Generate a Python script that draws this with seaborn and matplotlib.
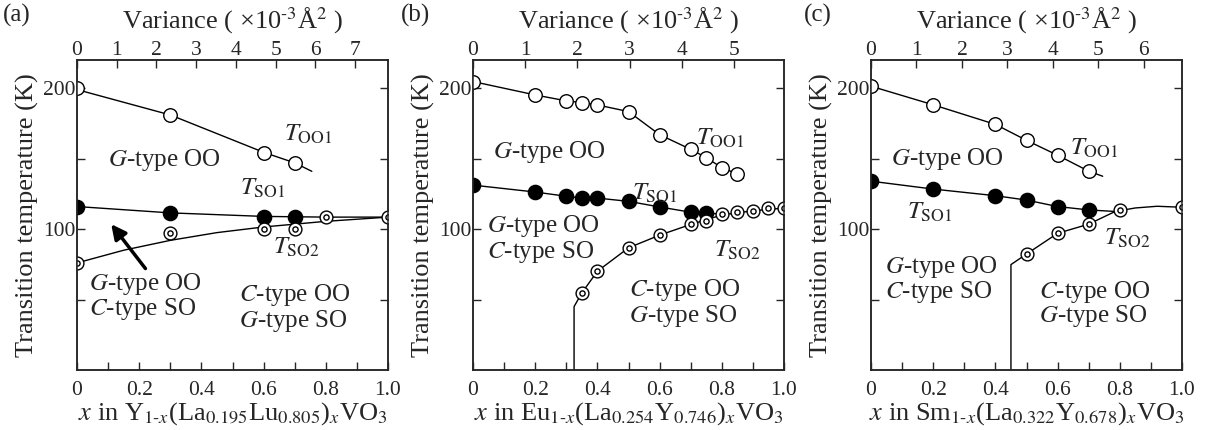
import numpy as np
import pandas as pd
import matplotlib
matplotlib.use("Agg")
import matplotlib.pyplot as plt
import seaborn as sns
from matplotlib.ticker import FixedLocator, MultipleLocator

sns.set_style("ticks")
plt.rcParams['font.family'] = ['Liberation Serif', 'STIXGeneral', 'DejaVu Serif']
plt.rcParams['mathtext.fontset'] = 'stix'
plt.rcParams['axes.linewidth'] = 1.1

# ---- panel (a): Y1-x(La0.195Lu0.805)xVO3 ----
a_oo1_x = [0.0, 0.3, 0.6, 0.7]
a_oo1_t = [200, 181, 154, 147]
a_so1_x = [0.0, 0.3, 0.6, 0.7]
a_so1_t = [116, 111.5, 108.5, 108.5]
a_so2_x = [0.0, 0.3, 0.6, 0.7, 0.8, 1.0]
a_so2_t = [76, 97, 100, 100, 108.5, 108.5]
# guide lines drawn through the data
a_oo1_gx = [0.0, 0.3, 0.6, 0.7, 0.755]
a_oo1_gt = [199, 181, 154.5, 147, 141]
a_so1_gx = [0.0, 0.3, 0.6, 0.8, 1.0]
a_so1_gt = [116, 111.5, 109, 108.5, 108.5]
a_so2_gx = [0.0, 0.15, 0.3, 0.45, 0.6, 0.8, 1.0]
a_so2_gt = [76, 85, 92, 97.5, 101.5, 105.5, 108.5]

# ---- panel (b): Eu1-x(La0.254Y0.746)xVO3 ----
b_oo1_x = [0.0, 0.2, 0.3, 0.35, 0.4, 0.5, 0.6, 0.7, 0.75, 0.8, 0.85]
b_oo1_t = [204.7, 195.2, 191, 189.8, 188.1, 183.4, 167, 156.6, 150.7, 143.6, 139.1]
b_so1_x = [0.0, 0.2, 0.3, 0.35, 0.4, 0.5, 0.6, 0.7, 0.75]
b_so1_t = [131.2, 126.3, 123.3, 122, 122, 119.7, 115.7, 112, 111.5]
b_so2_x = [0.35, 0.4, 0.5, 0.6, 0.7, 0.75, 0.8, 0.85, 0.9, 0.95, 1.0]
b_so2_t = [54.7, 70.1, 86.7, 95.7, 103.3, 105.9, 110.5, 111.9, 113, 114.9, 114.9]
b_oo1_gx = b_oo1_x + [0.87]
b_oo1_gt = b_oo1_t + [136]
b_so1_gx = b_so1_x + [0.8]
b_so1_gt = b_so1_t + [110.5]
b_so2_gx = [0.325, 0.325, 0.35, 0.4, 0.5, 0.6, 0.7, 0.8, 0.9, 1.0]
b_so2_gt = [0, 45, 54.7, 70.1, 86.7, 95.7, 103.3, 110, 113, 114.9]

# ---- panel (c): Sm1-x(La0.322Y0.678)xVO3 ----
c_oo1_x = [0.0, 0.2, 0.4, 0.5, 0.6, 0.7]
c_oo1_t = [201.4, 188.2, 174.3, 163, 152.4, 141.1]
c_so1_x = [0.0, 0.2, 0.4, 0.5, 0.6, 0.7]
c_so1_t = [134, 128.4, 123.7, 120.6, 116, 113.6]
c_so2_x = [0.5, 0.6, 0.7, 0.8, 1.0]
c_so2_t = [82.3, 97, 103.5, 113.2, 115.5]
c_oo1_gx = c_oo1_x + [0.745]
c_oo1_gt = c_oo1_t + [137.5]
c_so1_gx = c_so1_x + [0.785]
c_so1_gt = c_so1_t + [112.5]
c_so2_gx = [0.45, 0.45, 0.5, 0.6, 0.7, 0.785, 0.85, 0.92, 1.0]
c_so2_gt = [0, 74.8, 82.3, 97, 103.5, 112.5, 115, 116.2, 115.5]

# top-axis variance range (x = 1 corresponds to these values)
variance_max = [7.83, 5.96, 6.84]
variance_ticks = [range(0, 8), range(0, 6), range(0, 7)]

panel_tags = ['(a)', '(b)', '(c)']
xlabels = [
    r'$x$ in Y$_{1\text{-}x}$(La$_{0.195}$Lu$_{0.805}$)$_{x}$VO$_3$',
    r'$x$ in Eu$_{1\text{-}x}$(La$_{0.254}$Y$_{0.746}$)$_{x}$VO$_3$',
    r'$x$ in Sm$_{1\text{-}x}$(La$_{0.322}$Y$_{0.678}$)$_{x}$VO$_3$',
]

OO1 = r'$T_{\mathrm{OO1}}$'
SO1 = r'$T_{\mathrm{SO1}}$'
SO2 = r'$T_{\mathrm{SO2}}$'
GOO = r'$G$-type OO'
CSO = r'$C$-type SO'
COO = r'$C$-type OO'
GSO = r'$G$-type SO'

# (text, x, T) per panel
labels = [
    [(OO1, 0.665, 167), (GOO, 0.10, 149), (SO1, 0.525, 129), (SO2, 0.63, 87),
     (GOO, 0.04, 61), (CSO, 0.04, 43.5), (COO, 0.52, 53), (GSO, 0.52, 34.5)],
    [(OO1, 0.717, 164.6), (GOO, 0.065, 155), (SO1, 0.51, 125.5), (SO2, 0.775, 85),
     (GOO, 0.045, 102), (CSO, 0.045, 84), (COO, 0.503, 56.6), (GSO, 0.503, 38.4)],
    [(OO1, 0.64, 157), (GOO, 0.063, 150), (SO1, 0.115, 112), (SO2, 0.75, 93.6),
     (GOO, 0.045, 73), (CSO, 0.045, 55.5), (COO, 0.54, 55.5), (GSO, 0.54, 38)],
]

panels = [
    dict(oo1=(a_oo1_x, a_oo1_t), so1=(a_so1_x, a_so1_t), so2=(a_so2_x, a_so2_t),
         g=[(a_oo1_gx, a_oo1_gt), (a_so1_gx, a_so1_gt), (a_so2_gx, a_so2_gt)]),
    dict(oo1=(b_oo1_x, b_oo1_t), so1=(b_so1_x, b_so1_t), so2=(b_so2_x, b_so2_t),
         g=[(b_oo1_gx, b_oo1_gt), (b_so1_gx, b_so1_gt), (b_so2_gx, b_so2_gt)]),
    dict(oo1=(c_oo1_x, c_oo1_t), so1=(c_so1_x, c_so1_t), so2=(c_so2_x, c_so2_t),
         g=[(c_oo1_gx, c_oo1_gt), (c_so1_gx, c_so1_gt), (c_so2_gx, c_so2_gt)]),
]

fig = plt.figure(figsize=(12.1, 4.3), dpi=100)
lefts = [77 / 1210, 473 / 1210, 871 / 1210]
width = 311 / 1210
bottom = 1 - 370 / 430
height = 310 / 430

TICK_FS = 15.5
LABEL_FS = 19
TEXT_FS = 18

for i, p in enumerate(panels):
    ax = fig.add_axes([lefts[i], bottom, width, height])

    # guide lines
    for gx, gt in p['g']:
        sns.lineplot(x=gx, y=gt, ax=ax, sort=False, estimator=None,
                     color='black', linewidth=1.0, zorder=2)

    x, t = p['oo1']
    sns.scatterplot(x=x, y=t, ax=ax, marker='o', s=95, color='white',
                    edgecolor='black', linewidth=1.0, zorder=4)
    x, t = p['so1']
    sns.scatterplot(x=x, y=t, ax=ax, marker='o', s=105, color='black',
                    edgecolor='black', linewidth=1.0, zorder=4)
    x, t = p['so2']
    sns.scatterplot(x=x, y=t, ax=ax, marker='o', s=85, color='white',
                    edgecolor='black', linewidth=1.0, zorder=4)
    sns.scatterplot(x=x, y=t, ax=ax, marker='o', s=14, color='white',
                    edgecolor='black', linewidth=1.0, zorder=5)

    for txt, tx, ty in labels[i]:
        ax.text(tx, ty, txt, fontsize=TEXT_FS, ha='left', va='center', zorder=6)

    ax.set_xlim(0, 1.0)
    ax.set_ylim(0, 220)
    ax.xaxis.set_major_locator(FixedLocator([0, 0.2, 0.4, 0.6, 0.8, 1.0]))
    ax.set_xticklabels(['0', '0.2', '0.4', '0.6', '0.8', '1.0'])
    ax.xaxis.set_minor_locator(MultipleLocator(0.1))
    ax.yaxis.set_major_locator(FixedLocator([100, 200]))
    ax.yaxis.set_minor_locator(FixedLocator([50, 150]))
    ax.tick_params(which='both', direction='in', right=True, top=False,
                   length=6, width=1.0, labelsize=TICK_FS)
    ax.tick_params(axis='y', pad=1)
    ax.tick_params(axis='x', pad=8)
    ax.set_xlabel(xlabels[i], fontsize=LABEL_FS, labelpad=0)
    ax.set_ylabel('Transition temperature (K)', fontsize=LABEL_FS, labelpad=3)

    ax2 = ax.twiny()
    ax2.set_xlim(0, variance_max[i])
    ax2.set_xticks(list(variance_ticks[i]))
    ax2.tick_params(direction='in', length=6, width=1.0, labelsize=TICK_FS, pad=0)
    ax2.set_xlabel(r'Variance ( ×10$^{\text{-}3}$Å$^2$ )', fontsize=LABEL_FS, labelpad=9)

    fig.text([0.002, 0.331, 0.664][i], 0.965, panel_tags[i], fontsize=TEXT_FS,
             ha='left', va='center')

# arrow in panel (a)
ax_a = fig.axes[0]
ax_a.annotate('', xy=(0.11, 103.5), xytext=(0.22, 72),
              arrowprops=dict(arrowstyle='-|>', lw=2.5, color='black',
                              mutation_scale=22, shrinkA=0, shrinkB=0),
              zorder=6)

fig.savefig('out.png', dpi=100)
plt.close(fig)
